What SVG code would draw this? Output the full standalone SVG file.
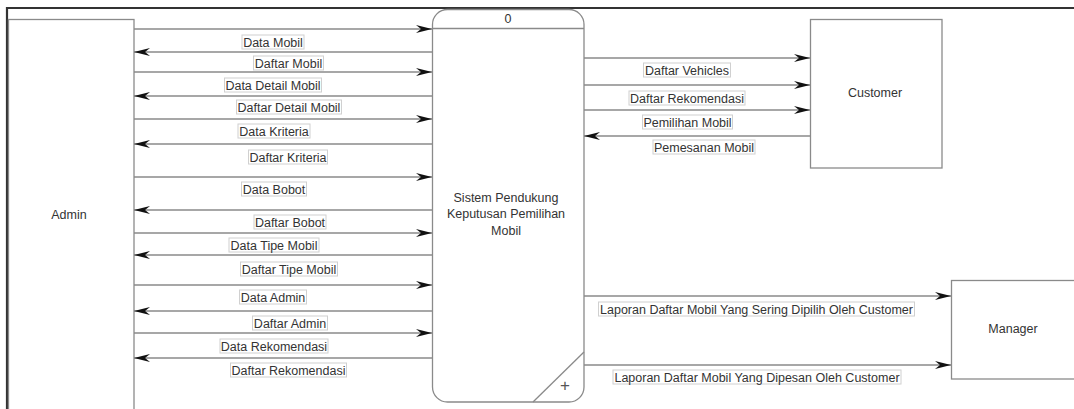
<svg xmlns="http://www.w3.org/2000/svg" width="1074" height="409" viewBox="0 0 1074 409">
<style>
.box{fill:#fff;stroke:#8a8a8a;stroke-width:1.3}
.frame{stroke:#333;stroke-width:2.2;fill:none}
.flow{stroke:#8a8a8a;stroke-width:1.3;fill:none}
.lb{fill:#fff;stroke:#d0d0d0;stroke-width:1}
text{font-family:"Liberation Sans",Arial,sans-serif;font-size:12.5px;fill:#333}
.c{text-anchor:middle}
</style>
<defs>
<marker id="ah" markerUnits="userSpaceOnUse" markerWidth="18" markerHeight="10" refX="16" refY="5" orient="auto">
<path d="M0,1 L16,5 L0,9 L5,5 Z" fill="#111"/>
</marker>
</defs>
<rect width="1074" height="409" fill="#fff"/>
<g id="frame">
<line class="frame" x1="7" y1="8" x2="1074" y2="8"/>
<line class="frame" x1="7" y1="7" x2="7" y2="409"/>
</g>
<g id="admin">
<rect class="box" x="8.5" y="19.5" width="125.5" height="400"/>
<text class="c" x="69" y="219">Admin</text>
</g>
<g id="process">
<rect class="box" x="432.5" y="9.5" width="151.5" height="392.5" rx="15"/>
<line class="flow" x1="432.5" y1="28.5" x2="584" y2="28.5"/>
<line class="flow" x1="584" y1="352" x2="533" y2="402"/>
<text class="c" x="508" y="23">0</text>
<text class="c" x="506" y="202">Sistem Pendukung</text>
<text class="c" x="506" y="218">Keputusan Pemilihan</text>
<text class="c" x="506" y="235">Mobil</text>
<text class="c" x="565" y="391" style="font-size:17px;fill:#555;font-weight:300">+</text>
</g>
<g id="customer">
<rect class="box" x="810.5" y="19.5" width="131.5" height="148.5"/>
<text class="c" x="875" y="97">Customer</text>
</g>
<g id="manager">
<rect class="box" x="951.5" y="280.5" width="140" height="98.5"/>
<text class="c" x="1013" y="333">Manager</text>
</g>
<g id="connectors">
<line class="flow" x1="134" y1="29" x2="432" y2="29" marker-end="url(#ah)"/>
<line class="flow" x1="432" y1="52" x2="134" y2="52" marker-end="url(#ah)"/>
<line class="flow" x1="134" y1="72" x2="432" y2="72" marker-end="url(#ah)"/>
<line class="flow" x1="432" y1="96" x2="134" y2="96" marker-end="url(#ah)"/>
<line class="flow" x1="134" y1="119" x2="432" y2="119" marker-end="url(#ah)"/>
<line class="flow" x1="432" y1="144" x2="134" y2="144" marker-end="url(#ah)"/>
<line class="flow" x1="134" y1="177" x2="432" y2="177" marker-end="url(#ah)"/>
<line class="flow" x1="432" y1="210" x2="134" y2="210" marker-end="url(#ah)"/>
<line class="flow" x1="134" y1="233" x2="432" y2="233" marker-end="url(#ah)"/>
<line class="flow" x1="432" y1="255" x2="134" y2="255" marker-end="url(#ah)"/>
<line class="flow" x1="134" y1="285" x2="432" y2="285" marker-end="url(#ah)"/>
<line class="flow" x1="432" y1="311" x2="134" y2="311" marker-end="url(#ah)"/>
<line class="flow" x1="134" y1="333" x2="432" y2="333" marker-end="url(#ah)"/>
<line class="flow" x1="432" y1="358" x2="134" y2="358" marker-end="url(#ah)"/>
<line class="flow" x1="584" y1="58" x2="810" y2="58" marker-end="url(#ah)"/>
<line class="flow" x1="584" y1="85" x2="810" y2="85" marker-end="url(#ah)"/>
<line class="flow" x1="584" y1="110" x2="810" y2="110" marker-end="url(#ah)"/>
<line class="flow" x1="810" y1="136" x2="584" y2="136" marker-end="url(#ah)"/>
<line class="flow" x1="584" y1="296" x2="951" y2="296" marker-end="url(#ah)"/>
<line class="flow" x1="584" y1="365" x2="951" y2="365" marker-end="url(#ah)"/>
<g id="labels">
<rect class="lb" x="242" y="35" width="62" height="14"/><text class="c" x="273" y="46.5">Data Mobil</text>
<rect class="lb" x="253.5" y="56" width="70" height="14"/><text class="c" x="288.5" y="67.5">Daftar Mobil</text>
<rect class="lb" x="224.5" y="78" width="97" height="14"/><text class="c" x="273" y="89.5">Data Detail Mobil</text>
<rect class="lb" x="236.5" y="100" width="105" height="14"/><text class="c" x="289" y="111.5">Daftar Detail Mobil</text>
<rect class="lb" x="238" y="124" width="72" height="14"/><text class="c" x="274" y="135.5">Data Kriteria</text>
<rect class="lb" x="248.5" y="150" width="79" height="14"/><text class="c" x="288" y="161.5">Daftar Kriteria</text>
<rect class="lb" x="241.5" y="182" width="65" height="14"/><text class="c" x="274" y="193.5">Data Bobot</text>
<rect class="lb" x="254" y="215" width="72" height="14"/><text class="c" x="290" y="226.5">Daftar Bobot</text>
<rect class="lb" x="229" y="238" width="90" height="14"/><text class="c" x="274" y="249.5">Data Tipe Mobil</text>
<rect class="lb" x="240.5" y="262" width="97" height="14"/><text class="c" x="289" y="273.5">Daftar Tipe Mobil</text>
<rect class="lb" x="239.5" y="290" width="67" height="14"/><text class="c" x="273" y="301.5">Data Admin</text>
<rect class="lb" x="252.5" y="316" width="75" height="14"/><text class="c" x="290" y="327.5">Daftar Admin</text>
<rect class="lb" x="220" y="339" width="108" height="14"/><text class="c" x="274" y="350.5">Data Rekomendasi</text>
<rect class="lb" x="230.5" y="363" width="116" height="14"/><text class="c" x="288.5" y="374.5">Daftar Rekomendasi</text>
<rect class="lb" x="643.5" y="63" width="87" height="14"/><text class="c" x="687" y="74.5">Daftar Vehicles</text>
<rect class="lb" x="629" y="91" width="116" height="14"/><text class="c" x="687" y="102.5">Daftar Rekomendasi</text>
<rect class="lb" x="642.5" y="115" width="90" height="14"/><text class="c" x="687.5" y="126.5">Pemilihan Mobil</text>
<rect class="lb" x="653" y="140" width="102" height="14"/><text class="c" x="704" y="151.5">Pemesanan Mobil</text>
<rect class="lb" x="598.5" y="302" width="316" height="14"/><text class="c" x="756.5" y="313.5">Laporan Daftar Mobil Yang Sering Dipilih Oleh Customer</text>
<rect class="lb" x="613" y="370" width="288" height="14"/><text class="c" x="757" y="381.5">Laporan Daftar Mobil Yang Dipesan Oleh Customer</text>
</g>
</g>
</svg>
